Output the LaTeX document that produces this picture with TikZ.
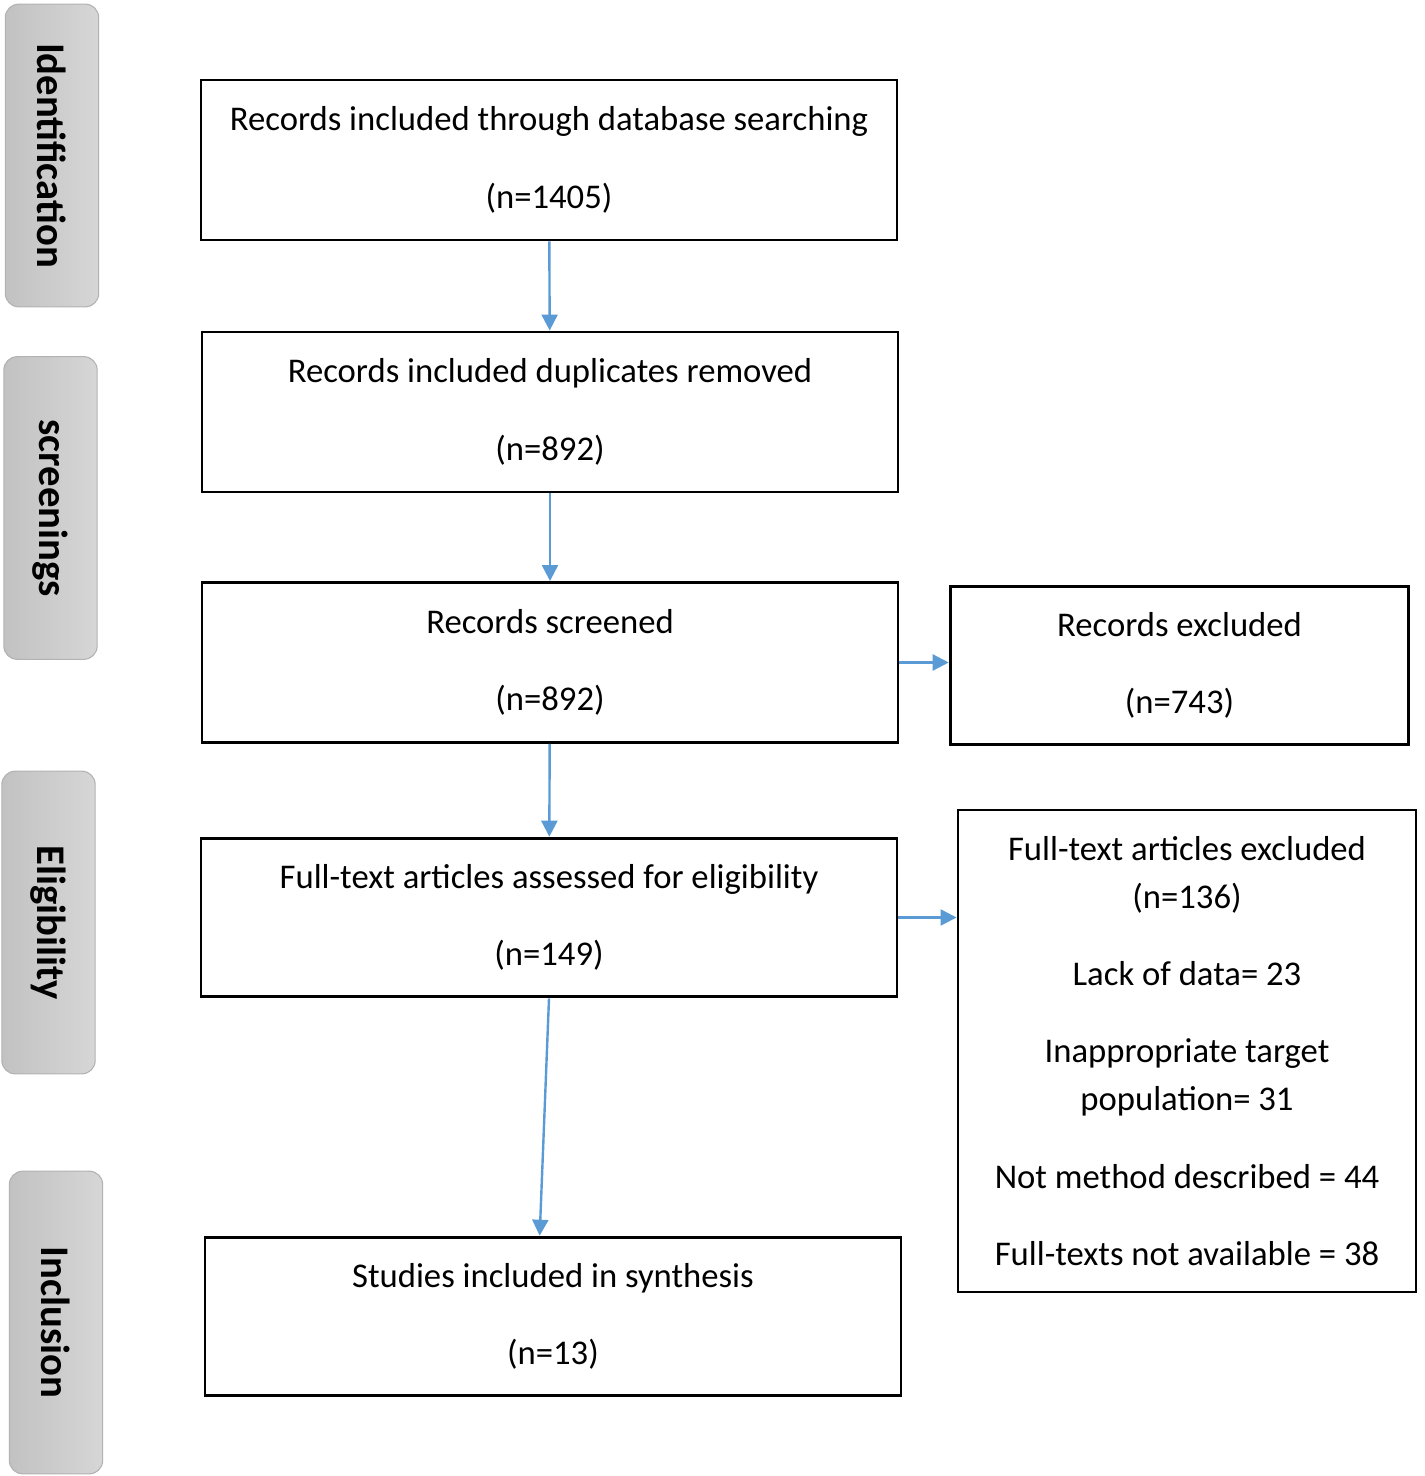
\documentclass[tikz,border=0pt]{standalone}
\usepackage{fontspec}
\setmainfont{Carlito}
\usetikzlibrary{arrows.meta}
\definecolor{arrowblue}{RGB}{91,155,213}
\begin{document}
\begin{tikzpicture}[x=0.75pt,y=-0.75pt,
        box/.style={draw,line width=2.2pt,align=center,inner sep=0pt,font=\fontsize{26}{36}\selectfont},
        phase/.style={draw=black!30,line width=.8pt,rounded corners=10pt,left color=black!24,right color=black!16,
            rotate=-90,minimum width=227pt,minimum height=70pt,font=\fontsize{30.5}{32}\selectfont\bfseries},
        arr/.style={-{Triangle[width=12pt,length=12pt]},draw=arrowblue,line width=1.8pt}]
    \useasboundingbox (0,0) rectangle (1424,1476);
    \foreach \n/\x/\y/\t in {p1/52/155.5/Identification,p2/50.5/508/screenings,p3/48.5/922.5/Eligibility,p4/56/1322.5/Inclusion}
        \node[phase] (\n) at (\x,\y) {\t};
    \node[box,minimum width=522pt,minimum height=120pt] (A) at (549,160) {Records included through database searching\\[22pt](n=1405)};
    \node[box,minimum width=522pt,minimum height=120pt] (B) at (550,412) {Records included duplicates removed\\[22pt](n=892)};
    \node[box,minimum width=522pt,minimum height=120pt] (C) at (550,662.5) {Records screened\\[22pt](n=892)};
    \node[box,minimum width=344pt,minimum height=119pt] (D) at (1179.5,665.5) {Records excluded\\[22pt](n=743)};
    \node[box,minimum width=522pt,minimum height=119pt] (E) at (549,917.5) {Full-text articles assessed for eligibility\\[22pt](n=149)};
    \node[box,minimum width=343.5pt,minimum height=361.5pt] (F) at (1187,1051) {Full-text articles excluded\\(n=136)\\[22pt]Lack of data= 23\\[22pt]Inappropriate target\\population= 31\\[22pt]Not method described = 44\\[22pt]Full-texts not available = 38};
    \node[box,minimum width=522pt,minimum height=119pt] (G) at (553,1316.5) {Studies included in synthesis\\[22pt](n=13)};
    \draw[arr] (A) -- (B);
    \draw[arr] (B) -- (C);
    \draw[arr] (C) -- (E);
    \draw[arr] (E.south) -- ([xshift=-10pt]G.north);
    \draw[arr] (C.east) -- (C.east -| D.west);
    \draw[arr] (E.east) -- (E.east -| F.west);
\end{tikzpicture}
\end{document}
